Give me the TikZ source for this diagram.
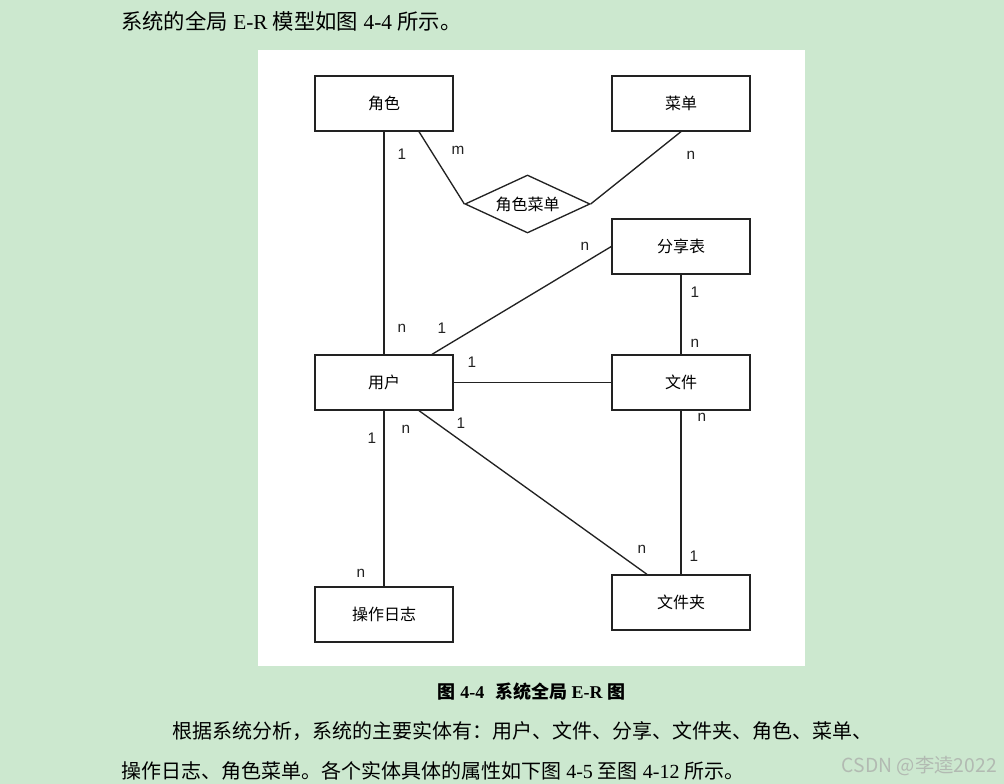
\documentclass[tikz,border=0pt]{standalone}
\usepackage{fontspec}
\setmainfont{Liberation Serif}
\newfontfamily\cjk{Noto Sans CJK SC}
\newfontfamily\arial{Liberation Sans}
\usetikzlibrary{shapes.geometric,calc}
\definecolor{paper}{HTML}{CCE8CF}
\definecolor{ink}{HTML}{222222}
\definecolor{mark}{HTML}{B2BAB2}

\begin{document}
\begin{tikzpicture}[x=0.75pt,y=-0.75pt,
  entity/.style={draw=ink, line width=1pt, fill=white, minimum width=103.5pt,
    minimum height=41.25pt, inner sep=0pt, font=\cjk\fontsize{12}{14}\selectfont},
  relation/.style={diamond, aspect=2.2, draw=ink, line width=1pt, fill=white,
    minimum width=93.75pt, minimum height=43.5pt, inner sep=0pt,
    font=\cjk\fontsize{12}{14}\selectfont},
  card/.style={font=\arial\fontsize{11.5}{13}\selectfont, text=ink, inner sep=0pt},
  link/.style={draw=ink, line width=1pt},
  body/.style={anchor=west, inner sep=0pt, font=\fontsize{15}{18}\selectfont}]
  \useasboundingbox (0,0) rectangle (1004,784);
  \fill[paper] (0,0) rectangle (1004,784);
  \fill[white] (258,50) rectangle (805,666);

  % entities and relation
  \node[entity] (role) at (384,103.5) {角色};
  \node[entity] (menu) at (681,103.5) {菜单};
  \node[relation] (rolemenu) at (527.5,204) {角色菜单};
  \node[entity] (share) at (681,246.5) {分享表};
  \node[entity] (user) at (384,382.5) {用户};
  \node[entity] (file) at (681,382.5) {文件};
  \node[entity] (log) at (384,614.5) {操作日志};
  \node[entity] (folder) at (681,602.5) {文件夹};

  % connectors
  \draw[link] (role) -- (user);
  \draw[link] ($(role.south)+(35,0)$) -- (rolemenu.west);
  \draw[link] (rolemenu.east) -- (menu.south);
  \draw[link] (share.west) -- ($(user.north)+(48,0)$);
  \draw[link] (share) -- (file);
  \draw[link] (user) -- (file);
  \draw[link] ($(user.south)+(35,0)$) -- ($(folder.north)+(-34,0)$);
  \draw[link] (user) -- (log);
  \draw[link] (file) -- (folder);

  % cardinalities
  \node[card] (c1) at (402,154) {1};
  \node[card] (c2) at (458,150) {m};
  \node[card] (c3) at (691,155) {n};
  \node[card] (c4) at (585,246) {n};
  \node[card] (c5) at (695,292) {1};
  \node[card] (c6) at (695,343) {n};
  \node[card] (c7) at (402,328) {n};
  \node[card] (c8) at (442,328) {1};
  \node[card] (c9) at (472,362) {1};
  \node[card] (c10) at (372,438) {1};
  \node[card] (c11) at (406,429) {n};
  \node[card] (c12) at (461,423) {1};
  \node[card] (c13) at (702,417) {n};
  \node[card] (c14) at (642,549) {n};
  \node[card] (c15) at (694,556) {1};
  \node[card] (c16) at (361,573) {n};

  % surrounding text
  \node[body, font=\fontsize{16}{19}\selectfont] (intro) at (121,21)
    {{\cjk 系统的全局} E-R {\cjk 模型如图} 4-4 {\cjk 所示。}};
  \node[inner sep=0pt, font=\bfseries\fontsize{13.5}{15}\selectfont] (caption) at (531.5,692)
    {{\cjk 图} 4-4\hspace{0.6em}{\cjk 系统全局} E-R {\cjk 图}};
  \node[body] (line1) at (172,731) {\cjk 根据系统分析，系统的主要实体有：用户、文件、分享、文件夹、角色、菜单、};
  \node[body] (line2) at (121,771) {{\cjk 操作日志、角色菜单。各个实体具体的属性如下图} 4-5 {\cjk 至图} 4-12 {\cjk 所示。}};
  \node[anchor=east, inner sep=0pt, text=mark, font=\cjk\fontsize{14.5}{16}\selectfont] (stamp) at (997,766) {CSDN @李逵2022};
\end{tikzpicture}
\end{document}
